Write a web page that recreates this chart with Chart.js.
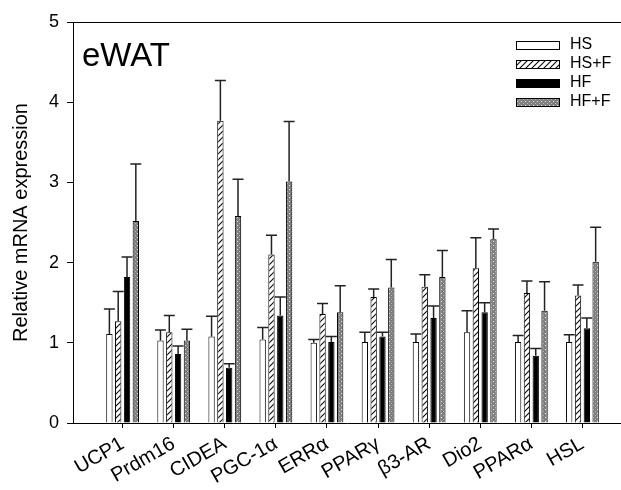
<!DOCTYPE html>
<html>
<head>
<meta charset="utf-8">
<script src="https://cdn.jsdelivr.net/npm/chart.js@4.4.1/dist/chart.umd.min.js"></script>
<style>
  body { margin: 0; background: #ffffff; }
  #wrap { width: 621px; height: 490px; }
</style>
</head>
<body>
<div id="wrap"><canvas id="chart" width="621" height="490"></canvas></div>
<script>
// genes on the x axis
const genes = ["UCP1", "Prdm16", "CIDEA", "PGC-1α", "ERRα", "PPARγ", "β3-AR", "Dio2", "PPARα", "HSL"];
const groups = ["HS", "HS+F", "HF", "HF+F"];

// mean values
const hsMean = [1.11, 1.03, 1.08, 1.04, 1.00, 1.01, 1.01, 1.13, 1.01, 1.01];
const hsfMean = [1.27, 1.13, 3.77, 2.10, 1.36, 1.57, 1.70, 1.93, 1.62, 1.59];
const hfMean = [1.82, 0.86, 0.69, 1.34, 1.01, 1.08, 1.31, 1.38, 0.84, 1.18];
const hffMean = [2.52, 1.03, 2.58, 3.01, 1.38, 1.69, 1.82, 2.29, 1.40, 2.01];

// upper error (SD)
const hsErr = [0.31, 0.13, 0.25, 0.15, 0.04, 0.12, 0.10, 0.27, 0.08, 0.09];
const hsfErr = [0.37, 0.21, 0.50, 0.24, 0.13, 0.10, 0.15, 0.38, 0.15, 0.13];
const hfErr = [0.25, 0.10, 0.05, 0.23, 0.07, 0.05, 0.15, 0.12, 0.09, 0.13];
const hffErr = [0.71, 0.14, 0.46, 0.75, 0.33, 0.35, 0.33, 0.13, 0.36, 0.43];

const yTicks = [0, 1, 2, 3, 4, 5];

const FONT = "'Liberation Sans', Arial, sans-serif";

// fill patterns
function hatchPattern() {
  const c = document.createElement("canvas");
  c.width = 6; c.height = 6;
  const g = c.getContext("2d");
  g.fillStyle = "#ffffff";
  g.fillRect(0, 0, 6, 6);
  g.strokeStyle = "#111111";
  g.lineWidth = 1.2;
  g.beginPath();
  g.moveTo(0, 6); g.lineTo(6, 0);
  g.moveTo(-1, 1); g.lineTo(1, -1);
  g.moveTo(5, 7); g.lineTo(7, 5);
  g.stroke();
  return g.createPattern(c, "repeat");
}

function dotPattern() {
  const c = document.createElement("canvas");
  c.width = 4; c.height = 4;
  const g = c.getContext("2d");
  g.fillStyle = "#808080";
  g.fillRect(0, 0, 4, 4);
  g.fillStyle = "#e6e6e6";
  g.fillRect(1, 1, 1, 1);
  g.fillStyle = "#b0b0b0";
  g.fillRect(3, 3, 1, 1);
  return g.createPattern(c, "repeat");
}

const toPoints = (arr) => arr.map((v, i) => ({ x: i, y: v }));

const datasets = [
  { label: groups[0], data: toPoints(hsMean), errors: hsErr, backgroundColor: "#ffffff" },
  { label: groups[1], data: toPoints(hsfMean), errors: hsfErr, backgroundColor: hatchPattern() },
  { label: groups[2], data: toPoints(hfMean), errors: hfErr, backgroundColor: "#000000" },
  { label: groups[3], data: toPoints(hffMean), errors: hffErr, backgroundColor: dotPattern() },
].map((d) => ({
  ...d,
  borderColor: "#000000",
  borderWidth: 1,
  borderSkipped: "bottom",
  categoryPercentage: 0.69,
  barPercentage: 0.72,
}));

// upper error bars with caps
const errorBars = {
  id: "errorBars",
  afterDatasetsDraw(chart) {
    const ctx = chart.ctx;
    const y = chart.scales.y;
    ctx.save();
    ctx.strokeStyle = "#222222";
    ctx.lineWidth = 1.5;
    chart.data.datasets.forEach((ds, di) => {
      const meta = chart.getDatasetMeta(di);
      meta.data.forEach((bar, i) => {
        const top = y.getPixelForValue(ds.data[i].y + ds.errors[i]);
        ctx.beginPath();
        ctx.moveTo(bar.x, bar.y);
        ctx.lineTo(bar.x, top);
        ctx.moveTo(bar.x - 5.5, top);
        ctx.lineTo(bar.x + 5.5, top);
        ctx.stroke();
      });
    });
    ctx.restore();
  },
};

// top frame line, panel label and legend
const decorations = {
  id: "decorations",
  afterDraw(chart) {
    const ctx = chart.ctx;
    const area = chart.chartArea;
    ctx.save();
    ctx.strokeStyle = "#000000";
    ctx.lineWidth = 1;
    ctx.beginPath();
    ctx.moveTo(area.left, area.top + 0.5);
    ctx.lineTo(area.right, area.top + 0.5);
    ctx.stroke();

    ctx.fillStyle = "#000000";
    ctx.font = "33px " + FONT;
    ctx.textBaseline = "alphabetic";
    ctx.textAlign = "left";
    ctx.fillText("eWAT", 82, 66);

    ctx.font = "16px " + FONT;
    ctx.textBaseline = "middle";
    chart.data.datasets.forEach((ds, i) => {
      const top = 41 + i * 19;
      ctx.fillStyle = ds.backgroundColor;
      ctx.fillRect(516, top, 44, 8);
      ctx.strokeStyle = "#000000";
      ctx.strokeRect(516.5, top + 0.5, 43, 8);
      ctx.fillStyle = "#000000";
      ctx.fillText(ds.label, 570, top + 4);
    });
    ctx.restore();
  },
};

new Chart(document.getElementById("chart"), {
  type: "bar",
  data: { datasets },
  plugins: [errorBars, decorations],
  options: {
    responsive: false,
    animation: false,
    devicePixelRatio: 1,
    layout: { padding: { left: 0, top: 22, right: 0, bottom: 0 } },
    plugins: {
      legend: { display: false },
      tooltip: { enabled: false },
    },
    scales: {
      x: {
        type: "linear",
        min: -0.971,
        max: 9.755,
        offset: false,
        afterFit: (scale) => { scale.height = 67; },
        afterBuildTicks: (scale) => {
          scale.ticks = genes.map((g, i) => ({ value: i }));
        },
        grid: {
          offset: false,
          drawOnChartArea: false,
          drawTicks: true,
          tickLength: 5,
          color: "#000000",
        },
        border: { display: true, color: "#000000", width: 1 },
        ticks: {
          autoSkip: false,
          minRotation: 30,
          maxRotation: 30,
          padding: 4,
          color: "#000000",
          font: { family: FONT, size: 20 },
          callback: (v) => genes[v],
        },
      },
      y: {
        min: 0,
        max: 5,
        afterFit: (scale) => { scale.width = 73; },
        afterBuildTicks: (scale) => {
          scale.ticks = yTicks.map((v) => ({ value: v }));
        },
        grid: {
          drawOnChartArea: false,
          drawTicks: true,
          tickLength: 6,
          color: "#000000",
        },
        border: { display: true, color: "#000000", width: 1 },
        ticks: {
          padding: 8,
          color: "#000000",
          font: { family: FONT, size: 18 },
        },
        title: {
          display: true,
          text: "Relative mRNA expression",
          color: "#000000",
          font: { family: FONT, size: 20 },
          padding: { top: 9, bottom: 0 },
        },
      },
    },
  },
});
</script>
</body>
</html>
